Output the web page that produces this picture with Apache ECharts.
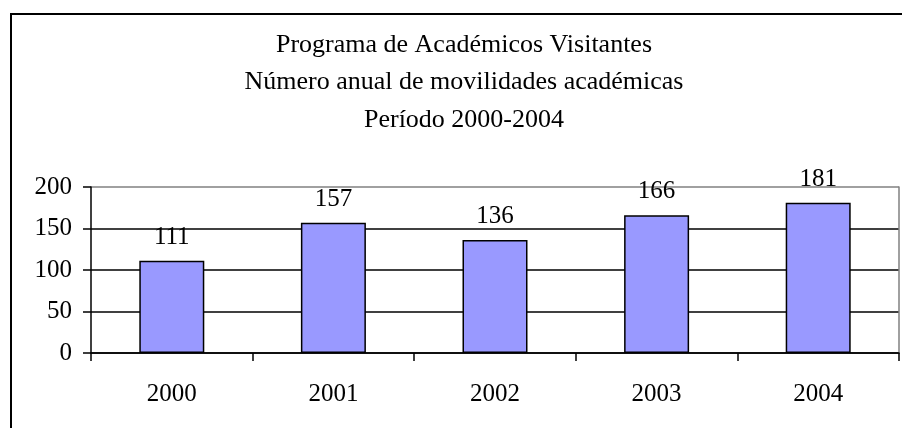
<!DOCTYPE html>
<html>
<head>
<meta charset="utf-8">
<script src="https://cdn.jsdelivr.net/npm/echarts@6/dist/echarts.min.js"></script>
<style>
    html, body { margin: 0; padding: 0; background: #fff; }
    #chart { width: 902px; height: 428px; }
</style>
</head>
<body>
<div id="chart"></div>
<script>
const years = ['2000', '2001', '2002', '2003', '2004']
const movilidades = [111, 157, 136, 166, 181]
const titleLines = [
    'Programa de Académicos Visitantes',
    'Número anual de movilidades académicas',
    'Período 2000-2004'
]

const font = 'Liberation Serif'
const chart = echarts.init(document.getElementById('chart'))

const option = {
    animation: false,
    backgroundColor: '#fff',
    textStyle: { fontFamily: font },
    title: {
        text: titleLines.join('\n'),
        left: 459,
        top: 21,
        textAlign: 'center',
        textStyle: {
            fontFamily: font,
            fontWeight: 'normal',
            fontSize: 26,
            lineHeight: 37.5,
            color: '#000'
        }
    },
    graphic: [{
        type: 'rect',
        shape: { x: 11, y: 14, width: 1000, height: 1000 },
        style: { fill: 'none', stroke: '#000', lineWidth: 2 },
        silent: true
    }],
    grid: {
        left: 91,
        right: 3,
        top: 187,
        bottom: 75
    },
    xAxis: {
        type: 'category',
        data: years,
        axisLine: { lineStyle: { color: '#000', width: 1.5 } },
        axisTick: { show: true, interval: 0, length: 8, lineStyle: { color: '#000', width: 1.5 } },
        axisLabel: {
            color: '#000',
            fontFamily: font,
            fontSize: 25,
            margin: 29
        }
    },
    yAxis: [{
        type: 'value',
        min: 0,
        max: 200,
        interval: 50,
        axisLine: { show: true, lineStyle: { color: '#000', width: 1.5 } },
        axisTick: { show: true, length: 8, lineStyle: { color: '#000', width: 1.5 } },
        axisLabel: {
            color: '#000',
            fontFamily: font,
            fontSize: 25,
            margin: 19
        },
        splitLine: {
            show: true,
            lineStyle: {
                color: ['#000', '#000', '#000', '#000', '#808080'],
                width: 1.5
            }
        }
    }, {
        type: 'value',
        position: 'right',
        min: 0,
        max: 200,
        axisLine: { show: true, lineStyle: { color: '#808080', width: 1.5 } },
        axisTick: { show: false },
        axisLabel: { show: false },
        splitLine: { show: false }
    }],
    series: [{
        type: 'bar',
        data: movilidades,
        barWidth: 65,
        itemStyle: {
            color: '#9999FF',
            borderColor: '#000',
            borderWidth: 1.5
        },
        label: {
            show: true,
            position: 'top',
            distance: 11,
            color: '#000',
            fontFamily: font,
            fontSize: 25
        }
    }]
}

chart.setOption(option)
</script>
</body>
</html>
